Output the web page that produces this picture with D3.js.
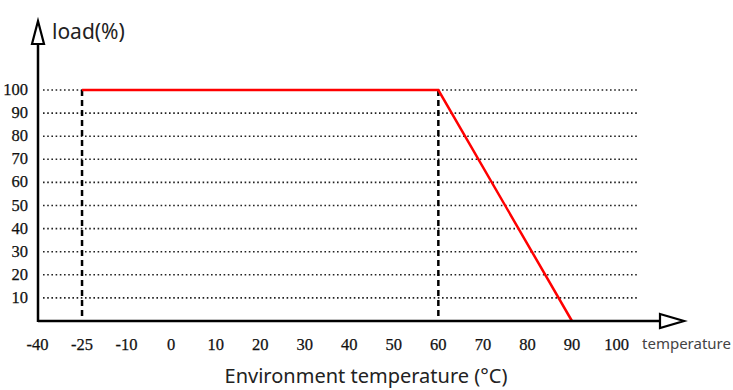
<!DOCTYPE html>
<html><head><meta charset="utf-8">
<script src="https://cdn.jsdelivr.net/npm/d3@7"></script>
<style>body{margin:0;background:#fff}svg{display:block}</style>
</head><body><svg id="c" width="733" height="390"></svg>
<script>
const xCategories = ["-40","-25","-10","0","10","20","30","40","50","60","70","80","90","100"];
const yTicks = [10,20,30,40,50,60,70,80,90,100];
const deratingCurve = [{t:"-25",load:100},{t:"60",load:100},{t:"90",load:0}];
const dashedMarkers = ["-25","60"];

const svg = d3.select("#c");
const x = d3.scalePoint().domain(xCategories).range([37.5, 616.5]);
const y = d3.scaleLinear().domain([0,100]).range([321, 90]);
const x0 = 38, gridEnd = 638;

// grid lines
svg.append("g").selectAll("line").data(yTicks).join("line")
  .attr("x1", 43).attr("x2", gridEnd)
  .attr("y1", d=>y(d)).attr("y2", d=>y(d))
  .attr("stroke", "#222").attr("stroke-width", 1.6).attr("stroke-dasharray", "1.6,2.6");

// y tick labels
svg.append("g").selectAll("text").data(yTicks).join("text")
  .attr("x", 28).attr("y", d=>y(d)+5)
  .attr("text-anchor","end")
  .attr("font-family","'Liberation Serif', serif").attr("font-size",16.5).attr("fill","#111")
  .attr("stroke","#111").attr("stroke-width",0.25)
  .text(d=>d);

// x tick labels
svg.append("g").selectAll("text").data(xCategories).join("text")
  .attr("x", d=>x(d)).attr("y", 350)
  .attr("text-anchor","middle")
  .attr("font-family","'Liberation Serif', serif").attr("font-size",16.5).attr("fill","#111")
  .attr("stroke","#111").attr("stroke-width",0.25)
  .text(d=>d);

// dashed vertical markers
svg.append("g").selectAll("line").data(dashedMarkers).join("line")
  .attr("x1", d=>x(d)).attr("x2", d=>x(d))
  .attr("y1", y(100)).attr("y2", y(0))
  .attr("stroke","#000").attr("stroke-width",2.5).attr("stroke-dasharray","6,4");

// red curve
svg.append("path").datum(deratingCurve)
  .attr("d", d3.line().x(d=>x(d.t)).y(d=>y(d.load)))
  .attr("fill","none").attr("stroke","#ff0000").attr("stroke-width",2.5);

// axes
svg.append("line").attr("x1",x0).attr("x2",x0).attr("y1",44).attr("y2",y(0)+1)
  .attr("stroke","#000").attr("stroke-width",2.5);
svg.append("line").attr("x1",x0).attr("x2",661).attr("y1",y(0)).attr("y2",y(0))
  .attr("stroke","#000").attr("stroke-width",2.5);
// arrows
svg.append("path").attr("d",`M${x0},21 L${x0-6},44 L${x0+6},44 Z`)
  .attr("fill","#fff").attr("stroke","#000").attr("stroke-width",2.2).attr("stroke-linejoin","miter");
svg.append("path").attr("d",`M660,${y(0)-7} L684,${y(0)} L660,${y(0)+7} Z`)
  .attr("fill","#fff").attr("stroke","#000").attr("stroke-width",2.2);

// labels
svg.append("text").attr("x",52).attr("y",39)
  .attr("font-family","'Noto Sans', sans-serif").attr("font-size",21).attr("fill","#222")
  .text("load(%)");
svg.append("text").attr("x",642).attr("y",349)
  .attr("font-family","'Noto Sans', sans-serif").attr("font-size",15).attr("fill","#444")
  .text("temperature");
svg.append("text").attr("x",366).attr("y",383).attr("text-anchor","middle")
  .attr("font-family","'Noto Sans', sans-serif").attr("font-size",20).attr("fill","#222")
  .text("Environment temperature (°C)");
</script></body></html>
